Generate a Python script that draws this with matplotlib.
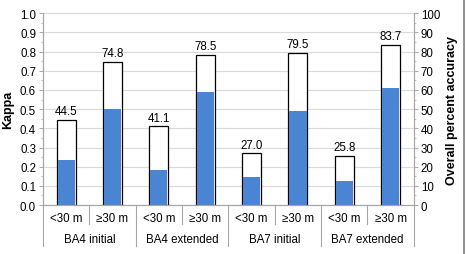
import numpy as np
import matplotlib.pyplot as plt
from matplotlib.ticker import MultipleLocator

plt.rcParams['font.family'] = ['Liberation Sans', 'DejaVu Sans']

groups      =   ["BA4 initial", "BA4 extended", "BA7 initial", "BA7 extended"]
sub_labels  =   ["<30 m", "\u226530 m"]
accuracy    =   [44.5, 74.8, 41.1, 78.5, 27.0, 79.5, 25.8, 83.7]
kappa       =   [0.235, 0.50, 0.181, 0.587, 0.146, 0.491, 0.125, 0.608]

blue    =   "#4a85d3"
gray    =   "#a6a6a6"
fs      =   8.3

fig =   plt.figure(figsize=(4.66, 2.55), dpi=100)
ax  =   fig.add_axes([0.0923, 0.192, 0.888 - 0.0923, 0.944 - 0.192])
ax2 =   ax.twinx()

# accuracy bars sit behind the kappa bars
ax2.set_zorder(0)
ax.set_zorder(1)
ax.patch.set_visible(False)

x   =   np.arange(len(accuracy))
ax2.bar(x, accuracy, width=0.41, color="white", edgecolor="black", linewidth=0.9, zorder=2)
for xi, v in zip(x, accuracy):
    ax2.text(xi, v + 1.3, "%.1f" % v, ha="center", va="bottom", fontsize=fs)
ax.bar(x, kappa, width=0.37, color=blue, linewidth=0, zorder=2)

ax.set_xlim(-0.5, len(x) - 0.5)
ax.set_ylim(0, 1.0)
ax2.set_ylim(0, 100)
ax.yaxis.set_minor_locator(MultipleLocator(0.05))
ax2.yaxis.set_major_locator(MultipleLocator(10))
ax2.yaxis.set_minor_locator(MultipleLocator(5))
ax.set_yticks(np.arange(0, 1.01, 0.1))
ax.set_yticklabels(["%.1f" % t for t in np.arange(0, 1.01, 0.1)])

ax2.grid(axis="y", color="#d9d9d9", linewidth=0.8, zorder=0)
ax2.set_axisbelow(True)

for a in (ax, ax2):
    a.tick_params(axis="y", labelsize=fs, length=3, width=0.7, color=gray, pad=2)
    a.tick_params(axis="y", which="minor", length=1.5, width=0.5, color=gray)
    a.set_xticks([])
    for s in a.spines.values():
        s.set_color(gray)
        s.set_linewidth(0.8)
    a.spines["top"].set_visible(False)

ax.set_ylabel("Kappa", fontsize=9, fontweight="bold", labelpad=4)
ax2.set_ylabel("Overall percent accuracy", fontsize=9, fontweight="bold", labelpad=4)

# two-level category axis
trans   =   ax.get_xaxis_transform()
for i in range(len(x)):
    ax.text(x[i], -0.068, sub_labels[i % 2], transform=trans, ha="center", va="center", fontsize=fs)
for g, name in enumerate(groups):
    ax.text(2 * g + 0.5, -0.178, name, transform=trans, ha="center", va="center", fontsize=fs)
for b in np.arange(-0.5, len(x), 2):
    ax.plot([b, b], [0, -0.214], transform=trans, color=gray, linewidth=0.8, clip_on=False)
for b in np.arange(0.5, len(x), 2):
    ax.plot([b, b], [0, -0.10], transform=trans, color=gray, linewidth=0.8, clip_on=False)

# chart frame edge at right
fig.add_artist(plt.Line2D([0.995, 0.995], [0, 1], transform=fig.transFigure, color="#808080", linewidth=1.2))

fig.savefig("out.png", dpi=100)
